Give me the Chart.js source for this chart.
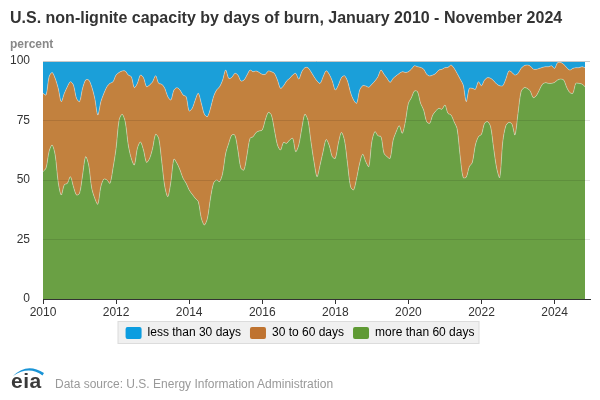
<!DOCTYPE html>
<html>
<head>
<meta charset="utf-8">
<script src="https://cdn.jsdelivr.net/npm/chart.js@4.4.1/dist/chart.umd.min.js"></script>
<style>
  html, body { margin: 0; padding: 0; background: #fff; }
  #wrap { position: relative; width: 600px; height: 400px; font-family: "Liberation Sans", Arial, sans-serif; }
  #chart { position: absolute; left: 0; top: 0; }
  .title { position: absolute; left: 10px; top: 10px; font-size: 16px; line-height: 16px; font-weight: bold; color: #333; white-space: nowrap; }
  .unit { position: absolute; left: 10px; top: 38px; font-size: 12px; line-height: 12px; font-weight: bold; color: #888; }
  .logo { position: absolute; left: 10px; top: 362px; }
  .source { position: absolute; left: 55px; top: 378px; font-size: 12px; line-height: 12px; color: #999; white-space: nowrap; }
</style>
</head>
<body>
<div id="wrap">
  <canvas id="chart" width="600" height="400"></canvas>
  <div class="title">U.S. non-lignite capacity by days of burn, January 2010 - November 2024</div>
  <div class="unit">percent</div>
  <svg class="logo" width="40" height="30" viewBox="0 0 40 30">
    <path d="M3,14 Q17,0 34,11 L32.5,13.5 Q19,3.5 3,14 Z" fill="#1a94d6"/>
    <text x="1" y="25.5" font-family="Liberation Sans, Arial, sans-serif" font-size="21" font-weight="bold" fill="#3a3a3a" letter-spacing="0.5">eia</text>
  </svg>
  <div class="source">Data source: U.S. Energy Information Administration</div>
</div>
<script>
// monthly categories, January 2010 - November 2024
const months = [];
for (let y = 2010; y <= 2024; y++) {
  for (let m = 1; m <= 12; m++) {
    if (y === 2024 && m > 11) break;
    months.push(y + '-' + String(m).padStart(2, '0'));
  }
}

// share of capacity, percent
const moreThan60 = [
  53.5, 55.0, 62.0, 64.7, 60.5, 49.0, 43.7, 48.0, 48.6, 51.4, 47.2, 43.7, // 2010
  44.4, 52.0, 59.8, 56.3, 46.5, 42.3, 39.8, 47.2, 50.4, 50.0, 48.6, 55.0, // 2011
  63.3, 75.2, 77.6, 74.5, 64.7, 59.0, 56.3, 63.3, 66.0, 62.6, 57.4, 59.0, // 2012
  63.3, 69.2, 67.5, 57.7, 47.2, 43.0, 49.3, 58.8, 57.0, 54.2, 50.7, 48.6, // 2013
  45.8, 44.0, 42.3, 40.9, 33.9, 31.1, 33.9, 42.3, 48.6, 50.0, 49.3, 52.8, // 2014
  61.2, 65.4, 68.9, 68.9, 62.6, 54.9, 54.2, 60.5, 67.5, 68.2, 70.0, 70.6, // 2015
  71.0, 75.2, 78.4, 77.3, 71.0, 64.7, 62.6, 65.8, 65.4, 66.8, 67.5, 61.9, // 2016
  64.7, 71.7, 77.6, 75.2, 66.1, 57.7, 51.4, 56.3, 62.0, 67.0, 64.5, 59.8, // 2017
  59.1, 65.4, 70.0, 66.8, 57.0, 47.2, 45.8, 50.7, 57.0, 60.8, 57.7, 55.6, // 2018
  66.1, 70.3, 68.6, 68.2, 61.2, 59.8, 59.1, 66.8, 70.3, 72.8, 69.6, 74.5, // 2019
  82.2, 84.6, 87.4, 87.1, 82.2, 79.4, 74.5, 73.8, 77.3, 79.0, 80.1, 79.7, // 2020
  81.5, 78.0, 77.3, 74.5, 71.5, 60.0, 51.0, 51.2, 55.6, 57.4, 64.7, 68.2, // 2021
  69.2, 73.8, 74.5, 72.4, 63.3, 54.9, 51.0, 66.1, 72.8, 74.2, 73.5, 68.9, // 2022
  78.0, 87.1, 88.8, 88.5, 87.4, 84.6, 85.4, 87.8, 90.2, 90.9, 90.6, 90.6, // 2023
  91.0, 92.0, 92.4, 92.0, 88.9, 86.8, 86.4, 90.6, 90.6, 90.3, 89.2        // 2024
];
const from30to60 = [
  32.9, 30.7, 31.4, 30.5, 32.2, 39.5, 39.2, 38.4, 40.6, 39.9, 42.7, 40.6, // 2010
  38.5, 36.5, 32.2, 35.7, 42.7, 42.0, 37.5, 35.7, 36.0, 39.2, 42.0, 36.3, // 2011
  30.8, 20.0, 18.2, 21.3, 29.4, 34.4, 32.5, 27.3, 28.1, 30.4, 31.8, 30.9, // 2012
  28.0, 24.6, 23.1, 32.5, 41.3, 42.0, 34.3, 29.0, 31.8, 33.6, 35.0, 36.4, // 2013
  33.2, 36.1, 41.3, 45.5, 48.3, 46.5, 42.7, 37.8, 36.4, 37.8, 39.9, 39.2, // 2014
  35.0, 27.3, 24.2, 25.9, 31.5, 36.7, 37.8, 33.6, 28.7, 27.3, 25.8, 24.6, // 2015
  23.4, 19.2, 17.4, 18.2, 23.8, 27.3, 25.9, 23.8, 26.2, 25.9, 26.6, 32.9, // 2016
  27.7, 23.8, 19.6, 22.0, 29.4, 35.7, 40.2, 34.3, 31.4, 28.9, 29.9, 31.8, // 2017
  28.7, 24.5, 23.0, 27.0, 34.6, 39.6, 37.8, 31.5, 30.8, 28.8, 31.8, 33.4, // 2018
  24.1, 21.3, 24.8, 28.0, 33.2, 32.9, 31.9, 25.9, 23.5, 22.0, 25.9, 20.7, // 2019
  13.3, 12.0, 10.6, 10.5, 15.1, 17.2, 19.9, 19.9, 16.8, 15.8, 16.1, 16.8, // 2020
  15.7, 19.3, 21.0, 22.5, 23.3, 32.4, 38.9, 31.7, 32.9, 31.1, 23.4, 23.1, // 2021
  20.4, 18.2, 18.5, 20.3, 28.4, 35.4, 38.6, 23.5, 19.6, 21.6, 21.7, 25.2, // 2022
  16.8,  9.8,  9.2,  9.8, 10.5, 12.0, 11.1,  9.1,  7.1,  6.7,  7.0,  7.4, // 2023
   5.9,  7.3,  7.0,  6.6,  8.3,  9.4, 10.5,  6.6,  6.6,  7.3,  8.0        // 2024
];
const lessThan30 = [
  13.6, 14.3,  6.6,  4.8,  7.3, 11.5, 17.1, 13.6, 10.8,  8.7, 10.1, 15.7, // 2010
  17.1, 11.5,  8.0,  8.0, 10.8, 15.7, 22.7, 17.1, 13.6, 10.8,  9.4,  8.7, // 2011
   5.9,  4.8,  4.2,  4.2,  5.9,  6.6, 11.2,  9.4,  5.9,  7.0, 10.8, 10.1, // 2012
   8.7,  6.2,  9.4,  9.8, 11.5, 15.0, 16.4, 12.2, 11.2, 12.2, 14.3, 15.0, // 2013
  21.0, 19.9, 16.4, 13.6, 17.8, 22.4, 23.4, 19.9, 15.0, 12.2, 10.8,  8.0, // 2014
   3.8,  7.3,  6.9,  5.2,  5.9,  8.4,  8.0,  5.9,  3.8,  4.5,  4.2,  4.8, // 2015
   5.6,  5.6,  4.2,  4.5,  5.2,  8.0, 11.5, 10.4,  8.4,  7.3,  5.9,  5.2, // 2016
   7.6,  4.5,  2.8,  2.8,  4.5,  6.6,  8.4,  9.4,  6.6,  4.1,  5.6,  8.4, // 2017
  12.2, 10.1,  7.0,  6.2,  8.4, 13.2, 16.4, 17.8, 12.2, 10.4, 10.5, 11.0, // 2018
   9.8,  8.4,  6.6,  3.8,  5.6,  7.3,  9.0,  7.3,  6.2,  5.2,  4.5,  4.8, // 2019
   4.5,  3.4,  2.0,  2.4,  2.7,  3.4,  5.6,  6.3,  5.9,  5.2,  3.8,  3.5, // 2020
   2.8,  2.7,  1.7,  3.0,  5.2,  7.6, 10.1, 17.1, 11.5, 11.5, 11.9,  8.7, // 2021
  10.4,  8.0,  7.0,  7.3,  8.3,  9.7, 10.4, 10.4,  7.6,  4.2,  4.8,  5.9, // 2022
   5.2,  3.1,  2.0,  1.7,  2.1,  3.4,  3.5,  3.1,  2.7,  2.4,  2.4,  2.0, // 2023
   3.1,  0.7,  0.6,  1.4,  2.8,  3.8,  3.1,  2.8,  2.8,  2.4,  2.8        // 2024
];

const yearTicks = [2010, 2012, 2014, 2016, 2018, 2020, 2022, 2024];
const percentTicks = [0, 25, 50, 75, 100];

const fillColors = ['#6aa044', '#c2813e', '#1b9fd9'];
const legendColors = ['#5f9a34', '#bf7330', '#0c9de0'];

// month label -> fractional year on the linear x scale
const monthPos = m => Number(m.slice(0, 4)) + (Number(m.slice(5)) - 1) / 12;
const points = vals => vals.map((v, i) => ({ x: monthPos(months[i]), y: v }));

// grey box behind the legend items
const legendBox = {
  id: 'legendBox',
  beforeDraw(chart) {
    const boxes = chart.legend && chart.legend.legendHitBoxes;
    if (!boxes || !boxes.length) return;
    const left = Math.min(...boxes.map(b => b.left)) - 8;
    const right = Math.max(...boxes.map(b => b.left + b.width)) + 5;
    const mid = boxes[0].top + boxes[0].height / 2;
    const c = chart.ctx;
    c.save();
    c.fillStyle = '#f0f0f0';
    c.strokeStyle = '#dcdcdc';
    c.lineWidth = 1;
    c.fillRect(left, mid - 12, right - left, 23);
    c.strokeRect(left + 0.5, mid - 11.5, right - left - 1, 22);
    c.restore();
  }
};

new Chart(document.getElementById('chart'), {
  type: 'line',
  data: {
    datasets: [
      { label: 'more than 60 days', data: points(moreThan60), backgroundColor: fillColors[0], fill: 'origin' },
      { label: '30 to 60 days', data: points(from30to60), backgroundColor: fillColors[1], fill: '-1' },
      { label: 'less than 30 days', data: points(lessThan30), backgroundColor: fillColors[2], fill: '-1' }
    ]
  },
  options: {
    responsive: false,
    animation: false,
    layout: { padding: { left: 10, right: 10, top: 61, bottom: 51 } },
    elements: {
      point: { radius: 0 },
      line: { borderWidth: 1, borderColor: 'rgba(255,255,255,0.35)', tension: 0.3 }
    },
    scales: {
      x: {
        type: 'linear',
        min: 2010,
        max: 2024.97,
        afterBuildTicks: s => { s.ticks = yearTicks.map(v => ({ value: v })); },
        afterFit: s => { s.height = 19; },
        grid: { drawOnChartArea: false, drawTicks: true, tickLength: 5, color: '#333', z: 1 },
        border: { color: '#333', z: 1 },
        ticks: { padding: 1, color: '#333', font: { size: 12 }, autoSkip: false, maxRotation: 0, callback: v => String(v) }
      },
      y: {
        stacked: true,
        min: 0,
        max: 100,
        afterBuildTicks: s => { s.ticks = percentTicks.map(v => ({ value: v })); },
        afterFit: s => { s.width = 33; },
        grid: {
          z: 1,
          drawTicks: false,
          color: c => c.tick.value === 100 ? '#c8c8c8' : (c.tick.value === 0 ? 'rgba(0,0,0,0)' : 'rgba(0,0,0,0.1)')
        },
        border: { display: false },
        ticks: { padding: 13, color: '#333', font: { size: 12 } }
      }
    },
    plugins: {
      legend: {
        position: 'bottom',
        reverse: true,
        labels: {
          boxWidth: 16,
          boxHeight: 12,
          useBorderRadius: true,
          borderRadius: 2,
          padding: 9,
          color: '#3d5778',
          font: { size: 12 },
          generateLabels: chart => chart.data.datasets.map((ds, i) => ({
            text: ds.label,
            fillStyle: legendColors[i],
            strokeStyle: legendColors[i],
            lineWidth: 0,
            borderRadius: 2,
            datasetIndex: i,
            hidden: false
          }))
        }
      },
      tooltip: { enabled: false }
    }
  },
  plugins: [legendBox]
});
</script>
</body>
</html>
